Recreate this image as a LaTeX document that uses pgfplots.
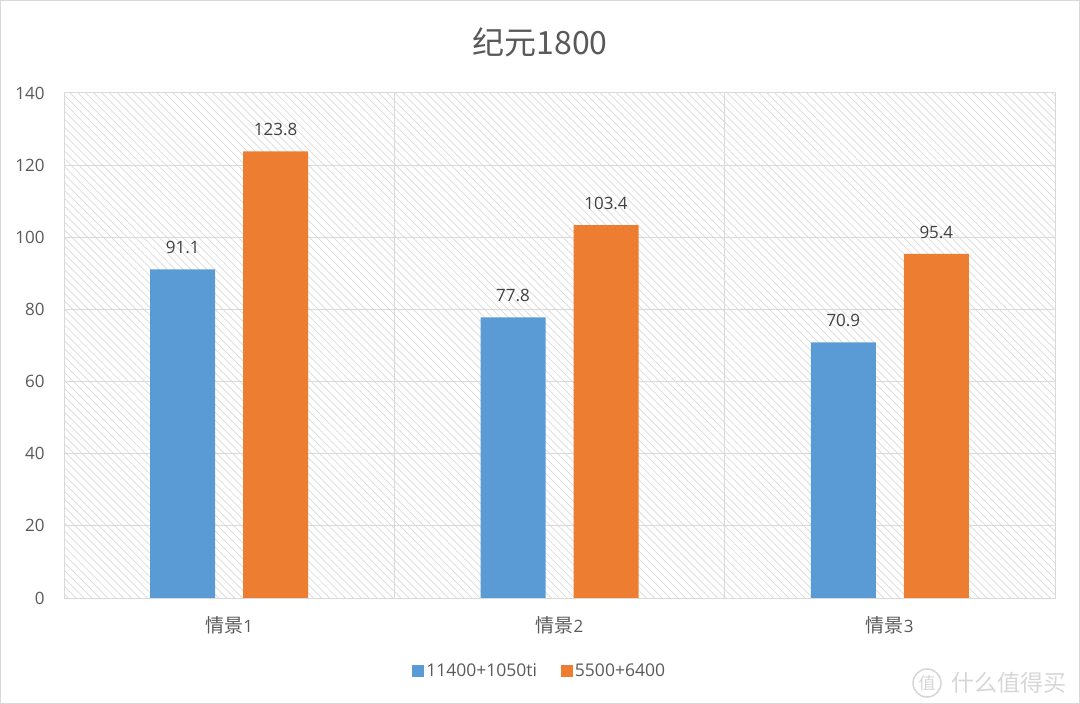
\documentclass[border=0pt]{standalone}
\usepackage{fontspec}
\setmainfont{Open Sans}
\newfontfamily\cjk{Noto Sans CJK SC}
\usepackage{pgfplots}
\pgfplotsset{compat=1.18}
\usetikzlibrary{patterns.meta}

\definecolor{barblue}{HTML}{5B9BD5}
\definecolor{barorange}{HTML}{ED7D31}
\definecolor{txt}{HTML}{595959}
\definecolor{lbl}{HTML}{404040}
\definecolor{gridc}{HTML}{D9D9D9}
\definecolor{wm}{HTML}{D6D6D6}

\newcommand{\cn}[1]{{\cjk\fontsize{19bp}{22bp}\selectfont #1}}

\begin{document}
\begin{tikzpicture}
% frame of the chart area
\draw[gridc, line width=1bp] (0.5bp,0.5bp) rectangle (1079.5bp,703.5bp);
\node[font=\cjk\fontsize{32bp}{36bp}\selectfont, text=txt] at (540bp,662bp) {纪元1800};

\begin{axis}[
    at={(64bp,106bp)}, anchor=south west,
    scale only axis, width=991bp, height=505bp,
    xmin=-0.5, xmax=2.5, ymin=0, ymax=140,
    ytick={0,20,...,140},
    xtick={0,1,2},
    xticklabels={\cn{情景}1,\cn{情景}2,\cn{情景}3},
    minor xtick={0.5,1.5},
    ymajorgrids, xminorgrids,
    grid style={gridc, line width=1bp},
    minor grid style={gridc, line width=1bp},
    axis line style={gridc, line width=1bp},
    major tick length=0pt, minor tick length=0pt,
    axis background/.style={pattern={Lines[angle=-45,distance=5.6bp,line width=0.7bp]}, pattern color=gridc},
    /pgf/number format/assume math mode=true,
    ticklabel style={font=\fontsize{17bp}{20bp}\selectfont, text=txt},
    yticklabel style={xshift=-16bp},
    xticklabel style={yshift=-15bp},
    ybar, bar width=65bp,
    nodes near coords,
    nodes near coords style={font=\fontsize{17bp}{20bp}\selectfont, text=lbl,
        /pgf/number format/fixed, /pgf/number format/precision=1,
        /pgf/number format/fixed zerofill, yshift=12bp},
    legend style={at={(0.48,-0.145)}, anchor=center, draw=none, fill=none,
        legend columns=2, font=\fontsize{17.5bp}{20bp}\selectfont, text=txt,
        /tikz/every even column/.append style={column sep=22bp}},
    legend image code/.code={\fill[#1] (0bp,-6bp) rectangle (12bp,6bp);},
]
\addplot[fill=barblue, draw=none, bar shift=-46.5bp] coordinates {(0,91.1) (1,77.8) (2,70.9)};
\addlegendentry{11400+1050ti}
\addplot[fill=barorange, draw=none, bar shift=46.5bp] coordinates {(0,123.8) (1,103.4) (2,95.4)};
\addlegendentry{5500+6400}
\end{axis}

% watermark
\draw[wm, line width=1.5bp] (927bp,21bp) circle (14bp);
\node[font=\cjk\fontsize{17bp}{20bp}\selectfont, text=wm] at (927bp,21bp) {值};
\node[font=\cjk\fontsize{23bp}{28bp}\selectfont, text=wm, anchor=west] at (948bp,21bp) {什么值得买};
\end{tikzpicture}
\end{document}
